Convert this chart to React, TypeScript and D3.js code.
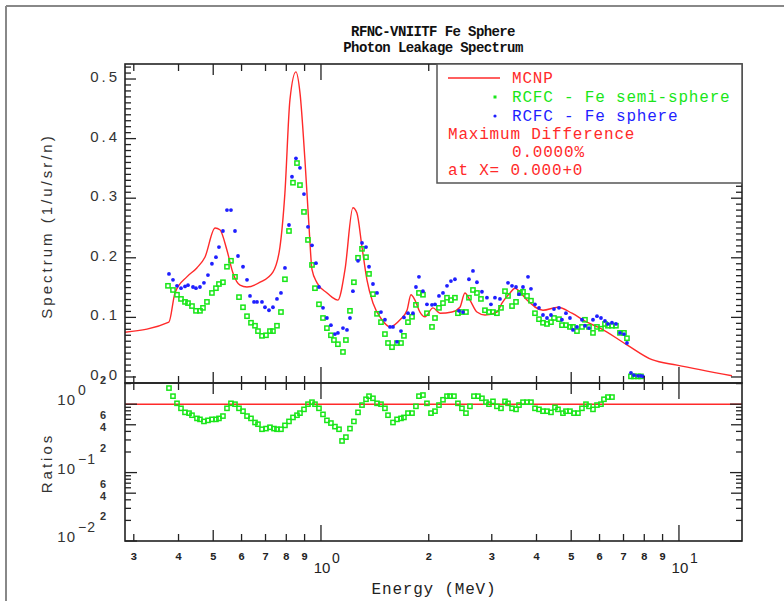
import React from 'react';
import * as d3 from 'd3';

// ---- data ----
const mcnpE = [0.2835, 0.376, 0.391, 0.422, 0.45, 0.474, 0.506, 0.522, 0.546, 0.568, 0.594, 0.621, 0.676, 0.734, 0.768, 0.793, 0.819, 0.851, 0.874, 0.902, 0.926, 0.944, 0.975, 1.04, 1.073, 1.115, 1.167, 1.228, 1.26, 1.302, 1.344, 1.397, 1.48, 1.559, 1.663, 1.739, 1.784, 1.83, 1.89, 1.952, 2.055, 2.15, 2.322, 2.444, 2.524, 2.607, 2.727, 2.871, 3.101, 3.203, 3.373, 3.483, 3.551, 3.762, 4.17, 4.592, 5.024, 5.534, 6.017, 7.157, 8.407, 9.872, 14.06];
const mcnpV = [0.075, 0.092, 0.141, 0.168, 0.183, 0.201, 0.25, 0.247, 0.213, 0.174, 0.154, 0.151, 0.159, 0.176, 0.218, 0.309, 0.465, 0.512, 0.476, 0.364, 0.252, 0.18, 0.158, 0.141, 0.134, 0.129, 0.18, 0.284, 0.275, 0.218, 0.163, 0.124, 0.096, 0.084, 0.096, 0.112, 0.138, 0.129, 0.109, 0.101, 0.116, 0.107, 0.109, 0.117, 0.141, 0.129, 0.109, 0.104, 0.109, 0.124, 0.141, 0.149, 0.146, 0.129, 0.112, 0.117, 0.107, 0.092, 0.082, 0.054, 0.029, 0.02, 0.002];

const sphereE = [0.3762, 0.386, 0.3961, 0.4064, 0.417, 0.4251, 0.439, 0.4475, 0.4592, 0.4711, 0.4834, 0.4959, 0.5089, 0.5188, 0.5323, 0.5463, 0.5605, 0.5752, 0.5864, 0.6056, 0.6214, 0.6335, 0.65, 0.6627, 0.6842, 0.6975, 0.7157, 0.7343, 0.7535, 0.7731, 0.7932, 0.814, 0.8299, 0.8514, 0.8736, 0.8965, 0.9198, 0.9438, 0.9683, 0.9872, 1.013, 1.039, 1.066, 1.094, 1.115, 1.152, 1.182, 1.205, 1.228, 1.269, 1.302, 1.336, 1.362, 1.397, 1.434, 1.471, 1.509, 1.559, 1.589, 1.631, 1.673, 1.705, 1.75, 1.807, 1.842, 1.878, 1.927, 1.977, 2.042, 2.082, 2.136, 2.192, 2.249, 2.307, 2.367, 2.429, 2.492, 2.59, 2.658, 2.727, 2.816, 2.908, 2.984, 3.062, 3.162, 3.33, 3.417, 3.506, 3.574, 3.667, 3.787, 3.86, 3.961, 4.064, 4.17, 4.279, 4.39, 4.476, 4.622, 4.712, 4.834, 4.96, 5.057, 5.189, 5.358, 5.463, 5.606, 5.752, 5.902, 6.056, 6.213, 6.334, 6.499, 6.668, 6.842, 7.021, 7.157, 7.343, 7.486, 7.681, 7.831, 7.934];
const sphereV = [0.173, 0.163, 0.153, 0.149, 0.152, 0.154, 0.151, 0.149, 0.151, 0.158, 0.171, 0.19, 0.201, 0.218, 0.245, 0.28, 0.28, 0.245, 0.203, 0.185, 0.163, 0.136, 0.126, 0.126, 0.126, 0.117, 0.112, 0.117, 0.131, 0.141, 0.183, 0.255, 0.336, 0.367, 0.351, 0.307, 0.252, 0.221, 0.191, 0.151, 0.116, 0.099, 0.087, 0.072, 0.074, 0.082, 0.079, 0.099, 0.144, 0.195, 0.225, 0.218, 0.185, 0.156, 0.141, 0.109, 0.096, 0.084, 0.084, 0.059, 0.077, 0.1, 0.107, 0.107, 0.151, 0.168, 0.144, 0.122, 0.121, 0.122, 0.136, 0.141, 0.153, 0.161, 0.164, 0.111, 0.109, 0.164, 0.178, 0.159, 0.143, 0.133, 0.122, 0.133, 0.131, 0.158, 0.153, 0.151, 0.139, 0.151, 0.168, 0.148, 0.122, 0.116, 0.104, 0.099, 0.104, 0.114, 0.116, 0.096, 0.107, 0.099, 0.079, 0.084, 0.096, 0.086, 0.082, 0.096, 0.102, 0.099, 0.094, 0.089, 0.091, 0.089, 0.074, 0.072, 0.057, 0.007, 0.003, 0.002, 0.002, 0.001];

const semiE = [0.3738, 0.386, 0.3961, 0.4064, 0.417, 0.4251, 0.4362, 0.4475, 0.4592, 0.4681, 0.4803, 0.4959, 0.5089, 0.5188, 0.5323, 0.5463, 0.5605, 0.5752, 0.5902, 0.6056, 0.6214, 0.6375, 0.6542, 0.6668, 0.6842, 0.7021, 0.7203, 0.7343, 0.7535, 0.7731, 0.7932, 0.814, 0.8352, 0.857, 0.8736, 0.8965, 0.9198, 0.9438, 0.9621, 0.9872, 1.013, 1.039, 1.066, 1.087, 1.115, 1.152, 1.174, 1.205, 1.236, 1.269, 1.302, 1.336, 1.362, 1.397, 1.434, 1.471, 1.509, 1.539, 1.579, 1.631, 1.673, 1.705, 1.75, 1.796, 1.842, 1.878, 1.927, 1.977, 2.042, 2.082, 2.136, 2.192, 2.249, 2.307, 2.367, 2.413, 2.476, 2.541, 2.59, 2.658, 2.727, 2.798, 2.871, 2.946, 3.023, 3.101, 3.183, 3.266, 3.33, 3.417, 3.506, 3.597, 3.667, 3.762, 3.86, 3.961, 4.064, 4.17, 4.279, 4.39, 4.476, 4.622, 4.712, 4.834, 4.96, 5.057, 5.189, 5.358, 5.463, 5.606, 5.752, 5.902, 6.056, 6.213, 6.334, 6.499, 6.668, 6.842, 7.021, 7.157, 7.343, 7.486, 7.681, 7.831];
const semiV = [0.153, 0.146, 0.138, 0.131, 0.126, 0.124, 0.119, 0.111, 0.111, 0.116, 0.126, 0.141, 0.149, 0.156, 0.159, 0.185, 0.195, 0.168, 0.134, 0.117, 0.102, 0.091, 0.086, 0.077, 0.069, 0.07, 0.077, 0.077, 0.086, 0.109, 0.164, 0.245, 0.326, 0.359, 0.322, 0.277, 0.23, 0.188, 0.149, 0.122, 0.099, 0.082, 0.07, 0.062, 0.055, 0.042, 0.062, 0.111, 0.159, 0.2, 0.215, 0.201, 0.173, 0.139, 0.106, 0.092, 0.072, 0.057, 0.05, 0.057, 0.057, 0.069, 0.092, 0.101, 0.121, 0.141, 0.138, 0.107, 0.084, 0.099, 0.116, 0.124, 0.133, 0.129, 0.133, 0.107, 0.109, 0.109, 0.133, 0.146, 0.141, 0.131, 0.112, 0.109, 0.109, 0.107, 0.116, 0.144, 0.136, 0.119, 0.126, 0.141, 0.143, 0.136, 0.128, 0.107, 0.097, 0.091, 0.089, 0.092, 0.099, 0.097, 0.087, 0.087, 0.084, 0.084, 0.077, 0.084, 0.096, 0.084, 0.074, 0.084, 0.081, 0.089, 0.086, 0.086, 0.086, 0.074, 0.074, 0.065, 0.001, 0.001, 0.001, 0.001];

const ratioE = [0.3762, 0.386, 0.3961, 0.4064, 0.417, 0.428, 0.4362, 0.4504, 0.4592, 0.4711, 0.4834, 0.4959, 0.5089, 0.5188, 0.5323, 0.5463, 0.5605, 0.5752, 0.5902, 0.6056, 0.6214, 0.6375, 0.6542, 0.6668, 0.6842, 0.7021, 0.7203, 0.739, 0.7535, 0.7731, 0.7932, 0.814, 0.8352, 0.857, 0.8736, 0.8965, 0.9198, 0.9438, 0.9621, 0.9872, 1.013, 1.039, 1.066, 1.094, 1.123, 1.145, 1.174, 1.205, 1.236, 1.269, 1.302, 1.336, 1.362, 1.397, 1.434, 1.471, 1.509, 1.539, 1.589, 1.631, 1.673, 1.705, 1.75, 1.796, 1.842, 1.878, 1.927, 1.977, 2.029, 2.082, 2.136, 2.192, 2.249, 2.293, 2.352, 2.413, 2.476, 2.541, 2.607, 2.675, 2.745, 2.816, 2.89, 2.946, 3.023, 3.101, 3.183, 3.266, 3.33, 3.417, 3.506, 3.574, 3.667, 3.762, 3.86, 3.961, 4.064, 4.17, 4.279, 4.39, 4.505, 4.592, 4.742, 4.834, 4.96, 5.09, 5.222, 5.358, 5.498, 5.606, 5.752, 5.902, 6.056, 6.173, 6.334, 6.499];
const ratioV = [1.72, 1.31, 1.03, 0.87, 0.76, 0.74, 0.69, 0.62, 0.6, 0.56, 0.58, 0.6, 0.6, 0.62, 0.67, 0.87, 1.03, 1.0, 0.87, 0.79, 0.67, 0.62, 0.54, 0.51, 0.43, 0.44, 0.46, 0.44, 0.43, 0.43, 0.49, 0.56, 0.64, 0.69, 0.74, 0.84, 1.0, 1.07, 1.0, 0.87, 0.71, 0.58, 0.53, 0.47, 0.43, 0.29, 0.33, 0.44, 0.56, 0.76, 0.97, 1.18, 1.31, 1.22, 1.03, 1.0, 0.87, 0.69, 0.54, 0.6, 0.62, 0.64, 0.74, 0.74, 0.93, 1.31, 1.36, 1.03, 0.74, 0.79, 0.97, 1.16, 1.31, 1.31, 1.31, 1.03, 0.87, 0.74, 0.93, 1.31, 1.31, 1.22, 1.07, 1.0, 1.1, 0.93, 0.87, 1.1, 1.03, 0.87, 0.84, 0.97, 1.07, 1.07, 1.07, 0.87, 0.84, 0.79, 0.79, 0.76, 0.9, 0.84, 0.74, 0.79, 0.79, 0.74, 0.74, 0.87, 1.0, 0.93, 0.84, 0.97, 1.0, 1.18, 1.27, 1.27];

const xTickValues = [0.3, 0.4, 0.5, 0.6, 0.7, 0.8, 0.9, 1, 2, 3, 4, 5, 6, 7, 8, 9, 10];
const xTickLabels = ['3', '4', '5', '6', '7', '8', '9', '10|0', '2', '3', '4', '5', '6', '7', '8', '9', '10|1'];
const yTopLabels = ['0.0', '0.1', '0.2', '0.3', '0.4', '0.5'];
const yTopLabelValues = [0, 0.1, 0.2, 0.3, 0.4, 0.5];
const ratioTickValues = [0.01, 0.02, 0.03, 0.04, 0.05, 0.06, 0.07, 0.08, 0.09, 0.1, 0.2, 0.3, 0.4, 0.5, 0.6, 0.7, 0.8, 0.9, 1, 2];
const ratioLabelValues = [0.01, 0.02, 0.04, 0.06, 0.1, 0.2, 0.4, 0.6, 1, 2];
const ratioLabels = ['10|-2', '2', '4', '6', '10|-1', '2', '4', '6', '10|0', '2'];

const RED = '#ff2a2a';
const GREEN = '#19e619';
const BLUE = '#1f1fff';
const AX = '#222';
const MONO = '"Liberation Mono", "DejaVu Sans Mono", monospace';
const SANS = '"Liberation Sans", Arial, sans-serif';

export default function App() {
  const L = 125, R = 742, T = 64, M = 383, B = 541;
  const x = d3.scaleLog().domain([0.2835, 15]).range([L, R]);
  const yT = d3.scaleLinear().domain([-0.0101, 0.5252]).range([M, T]);
  const yB = d3.scaleLog().domain([0.01, 2.04]).range([B, M]);

  const mcnp = mcnpE.map((e, i) => [e, mcnpV[i]] as [number, number]);
  const linePath = d3.line<[number, number]>().x(d => x(d[0])).y(d => yT(d[1])).curve(d3.curveMonotoneX)(mcnp) || '';

  const xTickLen = (v: number) => {
    const l = Math.log10(v);
    if (Math.abs(l - Math.round(l)) < 1e-6) return 16;
    const m = v / Math.pow(10, Math.floor(l + 1e-9));
    if (Math.abs(m - 5) < 1e-6) return 11;
    return 7;
  };
  const rTickLen = (v: number) => {
    const l = Math.log10(v);
    if (Math.abs(l - Math.round(l)) < 1e-6) return 12;
    const m = v / Math.pow(10, Math.floor(l + 1e-9));
    if (Math.abs(m - 5) < 1e-6) return 11;
    return 6;
  };
  const topYTicks = d3.range(0, 53).map(i => i / 100);

  const sq = 4.2;
  return (
    <svg width={784} height={601} style={{ position: 'absolute', left: 0, top: 0, background: '#fff' }}>
      <defs>
        <clipPath id="cTop"><rect x={L} y={T} width={R - L} height={M - T} /></clipPath>
        <clipPath id="cBot"><rect x={L} y={M} width={R - L} height={B - M} /></clipPath>
      </defs>
      {/* outer frame */}
      <line x1={6} y1={6} x2={784} y2={6} stroke="#888" strokeWidth={2} />
      <line x1={6} y1={6} x2={6} y2={601} stroke="#888" strokeWidth={2} />

      {/* title */}
      <g fontFamily={MONO} fontWeight="bold" fontSize={14} fill="#111" textAnchor="middle" letterSpacing={-0.6}>
        <text x={433} y={36}>RFNC-VNIITF Fe Sphere</text>
        <text x={433} y={52}>Photon Leakage Spectrum</text>
      </g>

      {/* top panel data */}
      <g clipPath="url(#cTop)">
        <path d={linePath} fill="none" stroke={RED} strokeWidth={1.4} />
        {semiE.map((e, i) => (
          <rect key={'g' + i} x={x(e) - sq / 2} y={yT(semiV[i]) - sq / 2} width={sq} height={sq} fill="none" stroke={GREEN} strokeWidth={1.5} />
        ))}
        {sphereE.map((e, i) => (
          <circle key={'b' + i} cx={x(e)} cy={yT(sphereV[i])} r={1.9} fill={BLUE} />
        ))}
      </g>

      {/* bottom panel data */}
      <g clipPath="url(#cBot)">
        <line x1={L} x2={R} y1={yB(1)} y2={yB(1)} stroke={RED} strokeWidth={1.6} />
        {ratioE.map((e, i) => (
          <rect key={'r' + i} x={x(e) - sq / 2} y={yB(ratioV[i]) - sq / 2} width={sq} height={sq} fill="none" stroke={GREEN} strokeWidth={1.5} />
        ))}
      </g>

      {/* frames */}
      <g fill="none" stroke={AX} strokeWidth={1.6}>
        <rect x={L} y={T} width={R - L} height={M - T} />
        <rect x={L} y={M} width={R - L} height={B - M} />
      </g>

      {/* ticks */}
      <g stroke={AX} strokeWidth={1.3}>
        {xTickValues.map((v, i) => {
          const xx = x(v), l = xTickLen(v);
          return (
            <g key={'xt' + i}>
              <line x1={xx} x2={xx} y1={T} y2={T + l} />
              <line x1={xx} x2={xx} y1={M} y2={M - l} />
              <line x1={xx} x2={xx} y1={M} y2={M + l} />
              <line x1={xx} x2={xx} y1={B} y2={B - l} />
            </g>
          );
        })}
        {topYTicks.map((v, i) => {
          const yy = yT(v), l = i % 10 === 0 ? 11 : 6;
          return (
            <g key={'yt' + i}>
              <line x1={L} x2={L + l} y1={yy} y2={yy} />
              <line x1={R} x2={R - l} y1={yy} y2={yy} />
            </g>
          );
        })}
        {ratioTickValues.map((v, i) => {
          const yy = yB(v), l = rTickLen(v);
          return (
            <g key={'rt' + i}>
              <line x1={L} x2={L + l} y1={yy} y2={yy} />
              <line x1={R} x2={R - l} y1={yy} y2={yy} />
            </g>
          );
        })}
      </g>

      {/* top y labels */}
      <g fontFamily={SANS} fontSize={15} fill="#333" textAnchor="end" letterSpacing={3}>
        {yTopLabelValues.map((v, i) => (
          <text key={'yl' + i} x={120} y={yT(v) + 3}>{yTopLabels[i]}</text>
        ))}
      </g>
      <text transform="translate(52,226) rotate(-90)" fontFamily={SANS} fontSize={15} fill="#333" textAnchor="middle" letterSpacing={3}>Spectrum (1/u/sr/n)</text>

      {/* ratio y labels */}
      <g fontFamily={SANS} fill="#333">
        {ratioLabelValues.map((v, i) => {
          const lab = ratioLabels[i];
          const yy = yB(v);
          if (lab.includes('|')) {
            const [b, e] = lab.split('|');
            return (
              <g key={'rl' + i}>
                <text x={76} y={yy + 1} fontSize={15} textAnchor="end" letterSpacing={1}>{b}</text>
                <text x={78} y={yy - 9} fontSize={14} textAnchor="start" letterSpacing={1}>{e.replace('-', '\u2212')}</text>
              </g>
            );
          }
          return <text key={'rl' + i} x={106} y={yy} fontSize={11} fontWeight="bold" textAnchor="end">{lab}</text>;
        })}
      </g>
      <text transform="translate(52,463) rotate(-90)" fontFamily={SANS} fontSize={15} fill="#333" textAnchor="middle" letterSpacing={3}>Ratios</text>

      {/* x labels */}
      <g fill="#222">
        {xTickValues.map((v, i) => {
          const lab = xTickLabels[i];
          const xx = x(v);
          if (lab.includes('|')) {
            const [b, e] = lab.split('|');
            return (
              <g key={'xl' + i} fontFamily={SANS}>
                <text x={xx + 1} y={573} fontSize={15} textAnchor="middle">{b}</text>
                <text x={xx + 11} y={563} fontSize={14} textAnchor="start">{e}</text>
              </g>
            );
          }
          return <text key={'xl' + i} x={xx} y={560} fontFamily={MONO} fontWeight="bold" fontSize={11} textAnchor="middle">{lab}</text>;
        })}
      </g>
      <text x={434} y={594} fontFamily={MONO} fontSize={16} letterSpacing={0.8} fill="#222" textAnchor="middle">Energy (MeV)</text>

      {/* legend */}
      <rect x={437} y={T} width={R - 437} height={119} fill="#fff" stroke="#555" strokeWidth={1.5} />
      <g fontFamily={MONO} fontSize={16} letterSpacing={0.8}>
        <line x1={448} x2={500} y1={78} y2={78} stroke={RED} strokeWidth={1.4} />
        <text x={512} y={83} fill={RED}>MCNP</text>
        <rect x={493.5} y={95.5} width={3} height={3} fill={GREEN} />
        <text x={512} y={102} fill={GREEN}>RCFC - Fe semi-sphere</text>
        <circle cx={495} cy={116} r={1.6} fill={BLUE} />
        <text x={512} y={121} fill={BLUE}>RCFC - Fe sphere</text>
        <text x={448} y={139} fill={RED}>Maximum Difference</text>
        <text x={512} y={157} fill={RED}>0.0000%</text>
        <text x={448} y={175} fill={RED}>at X= 0.000+0</text>
      </g>
    </svg>
  );
}
